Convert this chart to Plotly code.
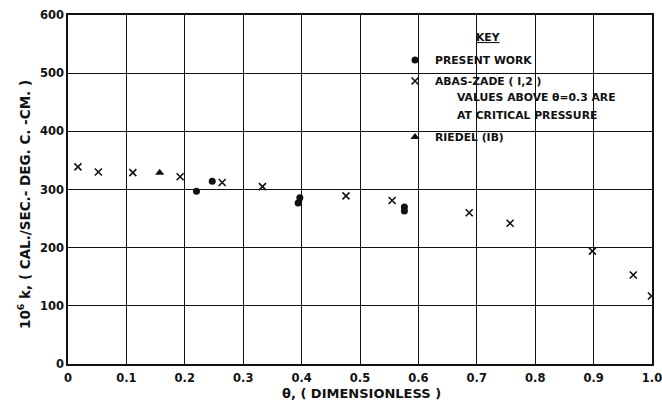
import plotly.graph_objects as go

# ---------------- data ----------------
present_theta = [0.220, 0.247, 0.394, 0.397, 0.576, 0.576]
present_k = [297, 314, 277, 286, 263, 270]

abas_theta = [0.017, 0.052, 0.111, 0.192, 0.264, 0.333, 0.476, 0.555,
              0.687, 0.757, 0.898, 0.968, 0.999]
abas_k = [339, 330, 329, 322, 312, 305, 289, 281, 260, 242, 194, 153, 117]

riedel_theta = [0.157]
riedel_k = [329]

x_tickvals = [0, 0.1, 0.2, 0.3, 0.4, 0.5, 0.6, 0.7, 0.8, 0.9, 1.0]
x_ticktext = ["0", "0.1", "0.2", "0.3", "0.4", "0.5", "0.6", "0.7", "0.8", "0.9", "1.0"]
y_tickvals = [0, 100, 200, 300, 400, 500, 600]
y_ticktext = ["0", "100", "200", "300", "400", "500", "600"]

# ---------------- layout geometry ----------------
W, H = 662, 406
ML, MR, MT, MB = 68, 10, 15, 42
PW, PH = W - ML - MR, H - MT - MB

def px(x):
    return (x - ML) / PW

def py(y):
    return 1 - (y - MT) / PH

FONT = "DejaVu Sans"
INK = "#111111"

fig = go.Figure()

fig.add_trace(go.Scatter(
    x=present_theta, y=present_k, mode="markers", name="PRESENT WORK",
    marker=dict(symbol="circle", size=7, color=INK), legend="legend"))
fig.add_trace(go.Scatter(
    x=abas_theta, y=abas_k, mode="markers", name="ABAS-ZADE ( I,2 )",
    marker=dict(symbol="x-thin", size=7, line=dict(width=1.6, color=INK), color=INK),
    legend="legend2"))
fig.add_trace(go.Scatter(
    x=riedel_theta, y=riedel_k, mode="markers", name="RIEDEL (IB)",
    marker=dict(symbol="triangle-up", size=8, color=INK), legend="legend3"))

leg_common = dict(bgcolor="rgba(0,0,0,0)", borderwidth=0, xanchor="left",
                  yanchor="middle", font=dict(family=FONT, size=10.8, color=INK, weight="bold"),
                  itemsizing="trace")
LEGX = px(395)
fig.update_layout(
    legend=dict(x=LEGX, y=py(60), **leg_common),
    legend2=dict(x=LEGX, y=py(81), **leg_common),
    legend3=dict(x=LEGX, y=py(137), **leg_common),
)

# white masks where the key interrupts the grid
masks = [
    (403, 522, 45, 143),
    (522, 557, 45, 127),
    (470, 510, 25, 45),
    (557, 622, 88, 123),
]
for x0, x1, y0, y1 in masks:
    fig.add_shape(type="rect", xref="paper", yref="paper",
                  x0=px(x0), x1=px(x1), y0=py(y1), y1=py(y0),
                  fillcolor="white", line=dict(width=0), layer="between")

ann_font = dict(family=FONT, size=10.8, color=INK, weight="bold")
fig.add_annotation(x=px(488), y=py(37), xref="paper", yref="paper",
                   text="<u>KEY</u>", showarrow=False, font=ann_font,
                   xanchor="center", yanchor="middle")
fig.add_annotation(x=px(455), y=py(98), xref="paper", yref="paper",
                   text="VALUES ABOVE θ=0.3 ARE", showarrow=False, font=ann_font,
                   xanchor="left", yanchor="middle")
fig.add_annotation(x=px(455), y=py(115), xref="paper", yref="paper",
                   text="AT CRITICAL PRESSURE", showarrow=False, font=ann_font,
                   xanchor="left", yanchor="middle")

# axis titles
fig.add_annotation(x=px(24), y=py(205), xref="paper", yref="paper",
                   text="10<sup>6</sup> k, ( CAL./SEC.- DEG. C. -CM. )",
                   textangle=-90, showarrow=False,
                   font=dict(family=FONT, size=13.5, color=INK, weight="bold"),
                   xanchor="center", yanchor="middle")
fig.add_annotation(x=px(361), y=py(393), xref="paper", yref="paper",
                   text="θ, ( DIMENSIONLESS )", showarrow=False,
                   font=dict(family=FONT, size=13, color=INK, weight="bold"),
                   xanchor="center", yanchor="middle")

axis_common = dict(showgrid=True, gridcolor=INK, gridwidth=1.4, zeroline=False,
                   showline=True, linecolor=INK, linewidth=1.6, mirror=True,
                   automargin=False, ticks="", ticklabeloverflow="allow",
                   tickfont=dict(family=FONT, size=11.5, color=INK, weight="bold"))
fig.update_xaxes(range=[0, 1], tickvals=x_tickvals, ticktext=x_ticktext,
                 ticklabelstandoff=2, **axis_common)
fig.update_yaxes(range=[0, 600], tickvals=y_tickvals, ticktext=y_ticktext, **axis_common)

fig.update_layout(
    width=W, height=H, margin=dict(l=ML, r=MR, t=MT, b=MB, autoexpand=False),
    paper_bgcolor="white", plot_bgcolor="white", showlegend=True,
)

fig.write_html("out.html", config={"displayModeBar": False},
               post_script="document.body.style.margin='0';document.body.style.overflow='hidden';")
